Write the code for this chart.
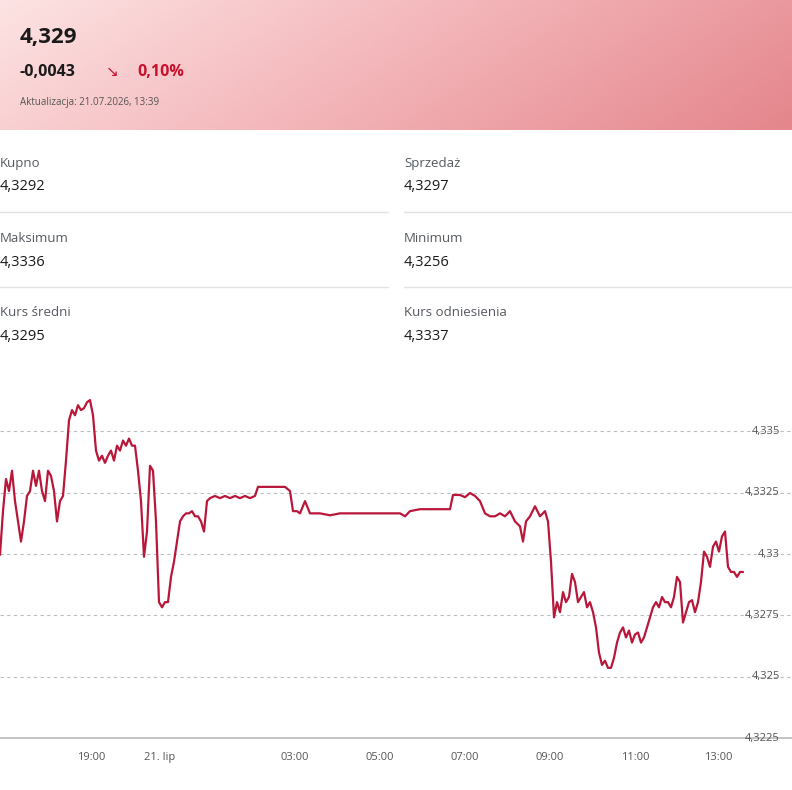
import numpy as np, pandas as pd, seaborn as sns, matplotlib
matplotlib.use("Agg")
import matplotlib.pyplot as plt
from matplotlib.colors import LinearSegmentedColormap

pos = [0,3,6,9,12,15,18,21,24,27,30,33,36,39,42,45,48,51,54,57,60,63,66,69,72,75,78,81,84,87,90,93,96,99,102,105,108,111,114,117,120,123,126,129,132,135,138,141,144,147,150,153,156,159,162,165,168,171,174,177,180,183,186,189,192,195,198,201,204,207,210,215,220,225,230,235,240,245,250,255,258,265,275,285,290,293,297,300,305,310,320,330,340,350,360,370,380,390,400,405,410,420,430,440,450,453,460,465,470,475,480,485,490,495,500,505,510,515,520,523,526,530,535,540,545,548,551,554,557,560,563,566,569,572,575,578,581,584,587,590,593,596,599,602,605,608,611,614,617,620,623,626,629,632,635,638,641,644,647,650,653,656,659,662,665,668,671,674,677,680,683,686,689,692,695,698,701,704,707,710,713,716,719,722,725,728,731,734,737,740,743]
price = [4.32997,4.33175,4.33306,4.33257,4.33340,4.33216,4.33133,4.33051,4.33133,4.33237,4.33257,4.33340,4.33278,4.33340,4.33257,4.33216,4.33340,4.33319,4.33257,4.33133,4.33216,4.33237,4.33381,4.33545,4.33587,4.33566,4.33607,4.33587,4.33595,4.33619,4.33628,4.33566,4.33422,4.33381,4.33401,4.33372,4.33401,4.33422,4.33381,4.33442,4.33422,4.33463,4.33442,4.33471,4.33442,4.33442,4.33340,4.33216,4.32989,4.33092,4.33360,4.33340,4.33133,4.32804,4.32783,4.32804,4.32804,4.32907,4.32969,4.33051,4.33133,4.33154,4.33166,4.33166,4.33175,4.33154,4.33154,4.33133,4.33092,4.33216,4.33228,4.33237,4.33228,4.33237,4.33228,4.33237,4.33228,4.33237,4.33228,4.33237,4.33274,4.33274,4.33274,4.33274,4.33257,4.33175,4.33175,4.33166,4.33216,4.33166,4.33166,4.33158,4.33166,4.33166,4.33166,4.33166,4.33166,4.33166,4.33166,4.33154,4.33175,4.33183,4.33183,4.33183,4.33183,4.33241,4.33241,4.33232,4.33249,4.33237,4.33216,4.33166,4.33154,4.33154,4.33166,4.33154,4.33175,4.33133,4.33113,4.33051,4.33133,4.33154,4.33195,4.33154,4.33175,4.33133,4.32969,4.32742,4.32804,4.32763,4.32845,4.32804,4.32825,4.32919,4.32886,4.32804,4.32825,4.32845,4.32783,4.32804,4.32763,4.32701,4.32598,4.32548,4.32565,4.32536,4.32536,4.32577,4.32639,4.32680,4.32701,4.32660,4.32688,4.32639,4.32672,4.32680,4.32639,4.32660,4.32701,4.32742,4.32783,4.32804,4.32783,4.32825,4.32804,4.32804,4.32783,4.32825,4.32907,4.32886,4.32721,4.32763,4.32804,4.32812,4.32763,4.32804,4.32886,4.33010,4.32989,4.32948,4.33030,4.33051,4.33010,4.33072,4.33092,4.32948,4.32927,4.32927,4.32907,4.32927,4.32927]
tick_pos = [91,160,295,380,465,550,635,718]
tick_labels = ["19:00","21. lip","03:00","05:00","07:00","09:00","11:00","13:00"]
y_ticks = [4.3225,4.325,4.3275,4.33,4.3325,4.335]
y_labels = ["4,3225","4,325","4,3275","4,33","4,3325","4,335"]
info = [("Kupno","4,3292"),("Sprzedaż","4,3297"),("Maksimum","4,3336"),("Minimum","4,3256"),("Kurs średni","4,3295"),("Kurs odniesienia","4,3337")]

sns.set_theme(style="white")
plt.rcParams['font.family'] = ['Open Sans', 'DejaVu Sans']
W, H = 792, 790
fig = plt.figure(figsize=(7.92, 7.90), dpi=100)

# header gradient
hx = fig.add_axes([0, 1-130/H, 1, 130/H])
cmap = LinearSegmentedColormap.from_list("g", ["#fde3e3", "#f3b4b8", "#e4868c"])
gx = np.linspace(0, 1, 300)
gy = np.linspace(0, 1, 50)
G = 0.8*gx[None, :] + 0.2*(1-gy[:, None])
hx.imshow(G, aspect="auto", cmap=cmap, extent=[0, 1, 0, 1], origin="lower")
hx.axis("off")

def t(x, y, s, **k):
    fig.text(x/W, 1-y/H, s, **k)

t(20, 38, "4,329", fontsize=16, fontweight="bold", color="#1a1a1a", va="center")
t(20, 72, "-0,0043", fontsize=11.5, fontweight="bold", color="#1a1a1a", va="center")
t(106, 72, "↘", fontsize=11, color="#c8102e", va="center", family=["DejaVu Sans"])
t(137, 72, "0,10%", fontsize=11.5, fontweight="bold", color="#c8102e", va="center")
t(20, 102, "Aktualizacja: 21.07.2026, 13:39", fontsize=7, color="#555555", va="center")

rows_y = [163, 238, 312]
for i, (lab, val) in enumerate(info):
    x0 = 0 if i % 2 == 0 else 404
    yy = rows_y[i // 2]
    t(x0, yy, lab, fontsize=9.5, color="#555a60", va="center")
    t(x0, yy + 24, val, fontsize=10.5, color="#1a1a1a", va="center")
for yy in [212, 287]:
    fig.add_artist(plt.Line2D([0, 388/W], [1-yy/H]*2, color="#e3e3e3", lw=1))
    fig.add_artist(plt.Line2D([404/W, 1], [1-yy/H]*2, color="#e3e3e3", lw=1))

# chart
ax = fig.add_axes([0, 1-738/H, 1, 348/H])
df = pd.DataFrame({"pos": pos, "price": price})
sns.lineplot(data=df, x="pos", y="price", ax=ax, color="#b8173a", lw=1.6)
ax.set_xlim(0, 792)
ax.set_ylim(4.3225, 4.33669)
for v in y_ticks[1:]:
    ax.axhline(v, color="#bdbdbd", lw=0.8, ls=(0, (3, 3)), zorder=0)
for v, l in zip(y_ticks, y_labels):
    ax.text(780, v, l, ha="right", va="center", fontsize=8, color="#555555")
ax.set_yticks([])
ax.set_xticks(tick_pos)
ax.set_xticklabels(tick_labels, fontsize=8, color="#555555")
ax.tick_params(axis="x", length=0, pad=10)
for s in ["top", "left", "right"]:
    ax.spines[s].set_visible(False)
ax.spines["bottom"].set_color("#bdbdbd")
ax.set_xlabel(""); ax.set_ylabel("")
fig.savefig("out.png", dpi=100)
